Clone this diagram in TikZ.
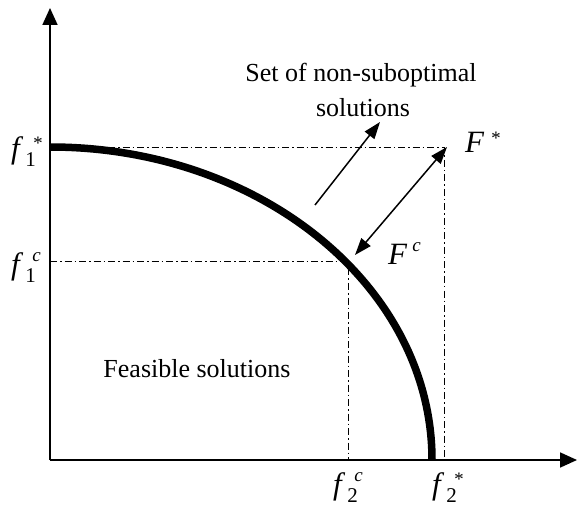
\documentclass[tikz,border=0pt]{standalone}
\usepackage{fontspec}
\setmainfont{Liberation Serif}
\usetikzlibrary{arrows.meta}
\newcommand\fs[4]{\textit{f}\kern2pt\rlap{\raisebox{-8pt}{\fontsize{21}{21}\selectfont #1}}\kern#2\raisebox{#3}{\fontsize{19}{19}\selectfont\textit{#4}}}
\newcommand\Fs[3]{\textit{F}\kern#1\raisebox{#2}{\fontsize{19}{19}\selectfont\textit{#3}}}
\begin{document}
\begin{tikzpicture}[x=1pt,y=1pt,
  axis/.style={line width=1.8pt,-{Triangle[length=17pt,width=15pt]}},
  guide/.style={line width=1pt,dash pattern=on 7pt off 3pt on 1.5pt off 3pt},
  arr/.style={line width=1.5pt,-{Triangle[length=17pt,width=12pt]}},
  darr/.style={line width=1.5pt,{Triangle[length=17pt,width=12pt]}-{Triangle[length=17pt,width=12pt]}},
  lbl/.style={font=\fontsize{26}{30}\selectfont, inner sep=0pt},
  mlbl/.style={font=\fontsize{31}{34}\selectfont, inner sep=0pt, anchor=base west},
  front/.style={line width=7.5pt}]
\useasboundingbox (0,0) rectangle (577,506);
\coordinate (O) at (50,46);
\coordinate (Ytop) at (50,498);
\coordinate (Xend) at (577,46);
\coordinate (Fs) at (444,358);
\coordinate (Y1s) at (50,358);
\coordinate (X2s) at (444,46);
\coordinate (Fc) at (348,244);
\coordinate (Y1c) at (50,244);
\coordinate (X2c) at (348,46);
\draw[guide] (Y1s) -- (Fs) -- (X2s);
\draw[guide] (Y1c) -- (Fc) -- (X2c);
\draw[front] (50,359) arc[start angle=90,end angle=0,x radius=382,y radius=313];
\draw[axis] (O) -- (Ytop);
\draw[axis] (O) -- (Xend);
\coordinate (a1) at (315,301);
\coordinate (a2) at (380,384);
\draw[arr] (a1) -- (a2);
\coordinate (b1) at (355,251);
\coordinate (b2) at (447,359);
\draw[darr] (b1) -- (b2);
\node[mlbl] (f1s) at (11,347) {\fs{1}{7pt}{9pt}{*}};
\node[mlbl] (f1c) at (11,231) {\fs{1}{7pt}{13pt}{c}};
\node[mlbl] (f2c) at (333,12) {\fs{2}{7pt}{13pt}{c}};
\node[mlbl] (f2s) at (432,12) {\fs{2}{7pt}{9pt}{*}};
\node[mlbl] (FS) at (465,353) {\Fs{6pt}{8pt}{*}};
\node[mlbl] (FC) at (388,241) {\Fs{5pt}{13pt}{c}};
\node[lbl,anchor=base] (set1) at (361,424) {Set of non-suboptimal};
\node[lbl,anchor=base] (set2) at (363,389) {solutions};
\node[lbl] (feas) at (197,137) {Feasible solutions};
\end{tikzpicture}
\end{document}
